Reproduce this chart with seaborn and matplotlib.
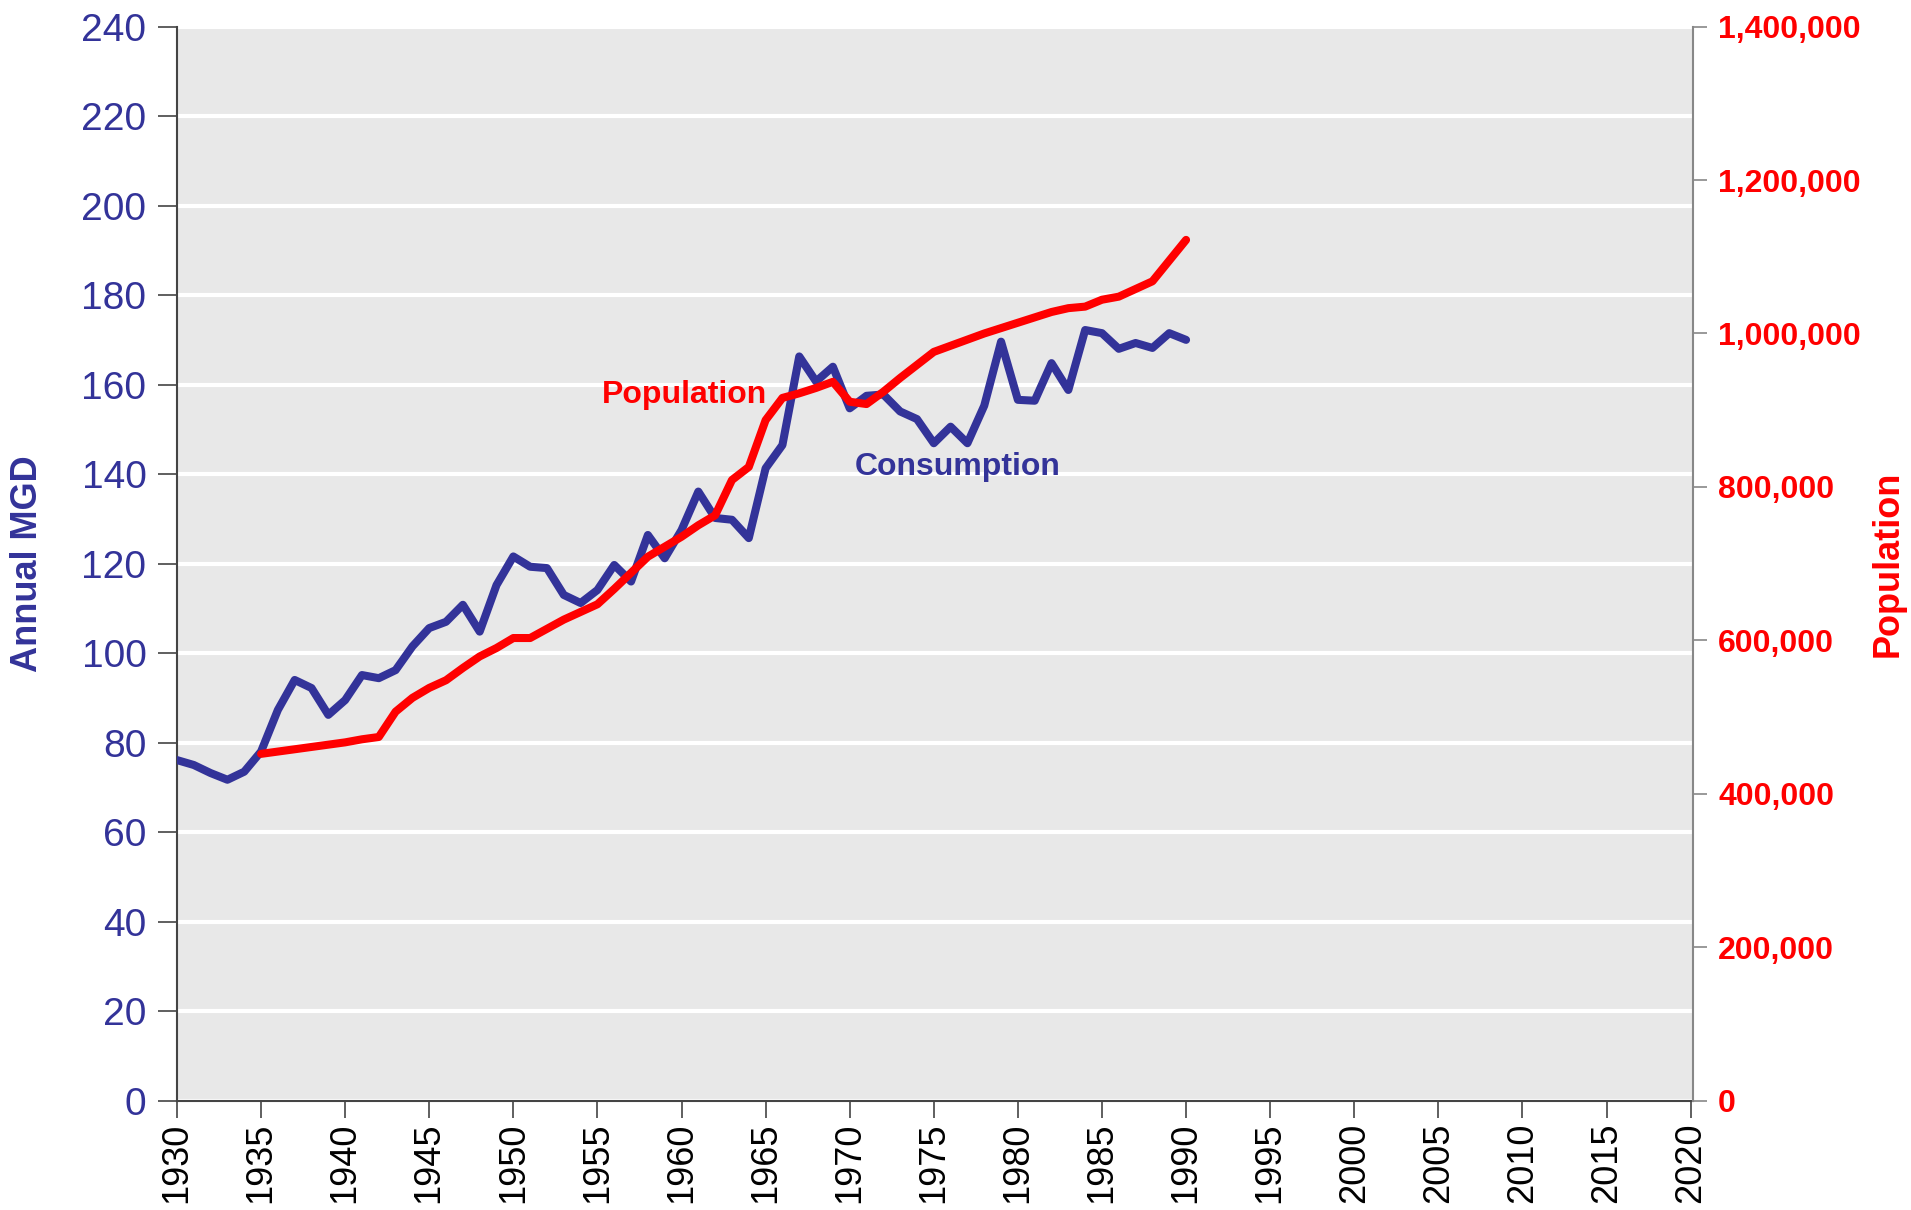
import matplotlib
matplotlib.use("Agg")
import matplotlib.pyplot as plt
import matplotlib.ticker as mticker
import seaborn as sns
import pandas as pd
import numpy as np

sns.set_theme(style="white")
plt.rcParams['font.family'] = ['Liberation Sans', 'DejaVu Sans']

# consumption (annual MGD), 1930-1990
cons_years = list(range(1930, 1991))
consumption = [
    76.1, 75.0, 73.2, 71.7, 73.5, 78.0, 87.3, 94.0, 92.2, 86.2,
    89.5, 95.1, 94.4, 96.2, 101.5, 105.6, 107.0, 110.8, 104.8, 115.2,
    121.6, 119.3, 119.0, 113.0, 111.2, 114.1, 119.7, 116.0, 126.4, 121.2,
    127.5, 136.1, 130.2, 129.8, 125.7, 141.3, 146.5, 166.3, 160.7, 164.0,
    154.7, 157.5, 157.8, 154.0, 152.3, 146.9, 150.6, 146.9, 155.3, 169.6,
    156.6, 156.4, 164.8, 158.8, 172.2, 171.5, 168.0, 169.3, 168.2, 171.5,
    170.0,
]

# population, 1935-1990
pop_years = list(range(1935, 1991))
population = [
    452000, 455000, 458000, 461000, 464000, 467000, 471000, 474000, 507000, 525000,
    538000, 548000, 564000, 579000, 590000, 603000, 603000, 615000, 627000, 637000,
    647000, 667000, 688000, 709000, 722000, 735000, 750000, 763000, 809000, 826000,
    887000, 916000, 922000, 929000, 937000, 911000, 908000, 924000, 942000, 959000,
    976000, 984000, 992000, 1000000, 1007000, 1014000, 1021000, 1028000, 1033000, 1035000,
    1044000, 1048000, 1058000, 1068000, 1095000, 1122000,
]

BLUE = "#333399"
RED = "#FF0000"

df_c = pd.DataFrame({"Year": cons_years, "MGD": consumption})
df_p = pd.DataFrame({"Year": pop_years, "Population": population})

fig, ax = plt.subplots(figsize=(19.11, 12.10), dpi=100)
fig.subplots_adjust(left=0.0926, right=0.886, top=0.978, bottom=0.0904)
ax.set_facecolor("#E8E8E8")

sns.lineplot(data=df_c, x="Year", y="MGD", ax=ax, color=BLUE, linewidth=5.8, zorder=3)
ax.set_xlim(1930, 2020.15)
ax.set_ylim(0, 240)
ax.set_yticks(range(0, 241, 20))
ax.set_xticks(range(1930, 2021, 5))
ax.yaxis.grid(True, color="white", linewidth=3)
ax.set_axisbelow(True)
ax.tick_params(axis="y", labelsize=28, labelcolor=BLUE, length=14, width=1.2, color="#444444",
               direction="out", left=True, pad=8)
ax.tick_params(axis="x", labelsize=26, labelcolor="black", length=12, width=1.2, color="#444444",
               direction="out", bottom=True, labelrotation=90, pad=4)
ax.set_xlabel("")
ax.set_ylabel("Annual MGD", fontsize=26, fontweight="bold", color=BLUE)
ax.yaxis.set_label_coords(-0.087, 0.5)
for s in ["left", "bottom"]:
    ax.spines[s].set_color("#444444")
    ax.spines[s].set_linewidth(1.5)
ax.spines["top"].set_visible(False)

ax2 = ax.twinx()
sns.lineplot(data=df_p, x="Year", y="Population", ax=ax2, color=RED, linewidth=5.8)
ax2.set_ylim(0, 1400000)
ax2.set_yticks(range(0, 1400001, 200000))
ax2.yaxis.set_major_formatter(mticker.FuncFormatter(lambda v, p: f"{int(v):,}"))
ax2.tick_params(axis="y", labelsize=23, labelcolor=RED, length=10, width=1.2, color="#888888",
                direction="out", right=True, pad=8)
for lab in ax2.get_yticklabels():
    lab.set_fontweight("bold")
ax2.set_ylabel("Population", fontsize=26, fontweight="bold", color=RED)
ax2.yaxis.set_label_coords(1.117, 0.5)
ax2.spines["right"].set_color("#888888")
ax2.spines["right"].set_linewidth(1.5)
ax2.spines["top"].set_visible(False)
ax2.spines["left"].set_visible(False)
ax2.spines["bottom"].set_visible(False)
ax2.set_xlim(1930, 2020.15)

ax.text(1960.2, 157.6, "Population", fontsize=23, fontweight="bold", color=RED,
        ha="center", va="center", zorder=5)
ax.text(1976.4, 141.7, "Consumption", fontsize=23, fontweight="bold", color=BLUE,
        ha="center", va="center", zorder=5)

fig.savefig("out.png", dpi=100)
